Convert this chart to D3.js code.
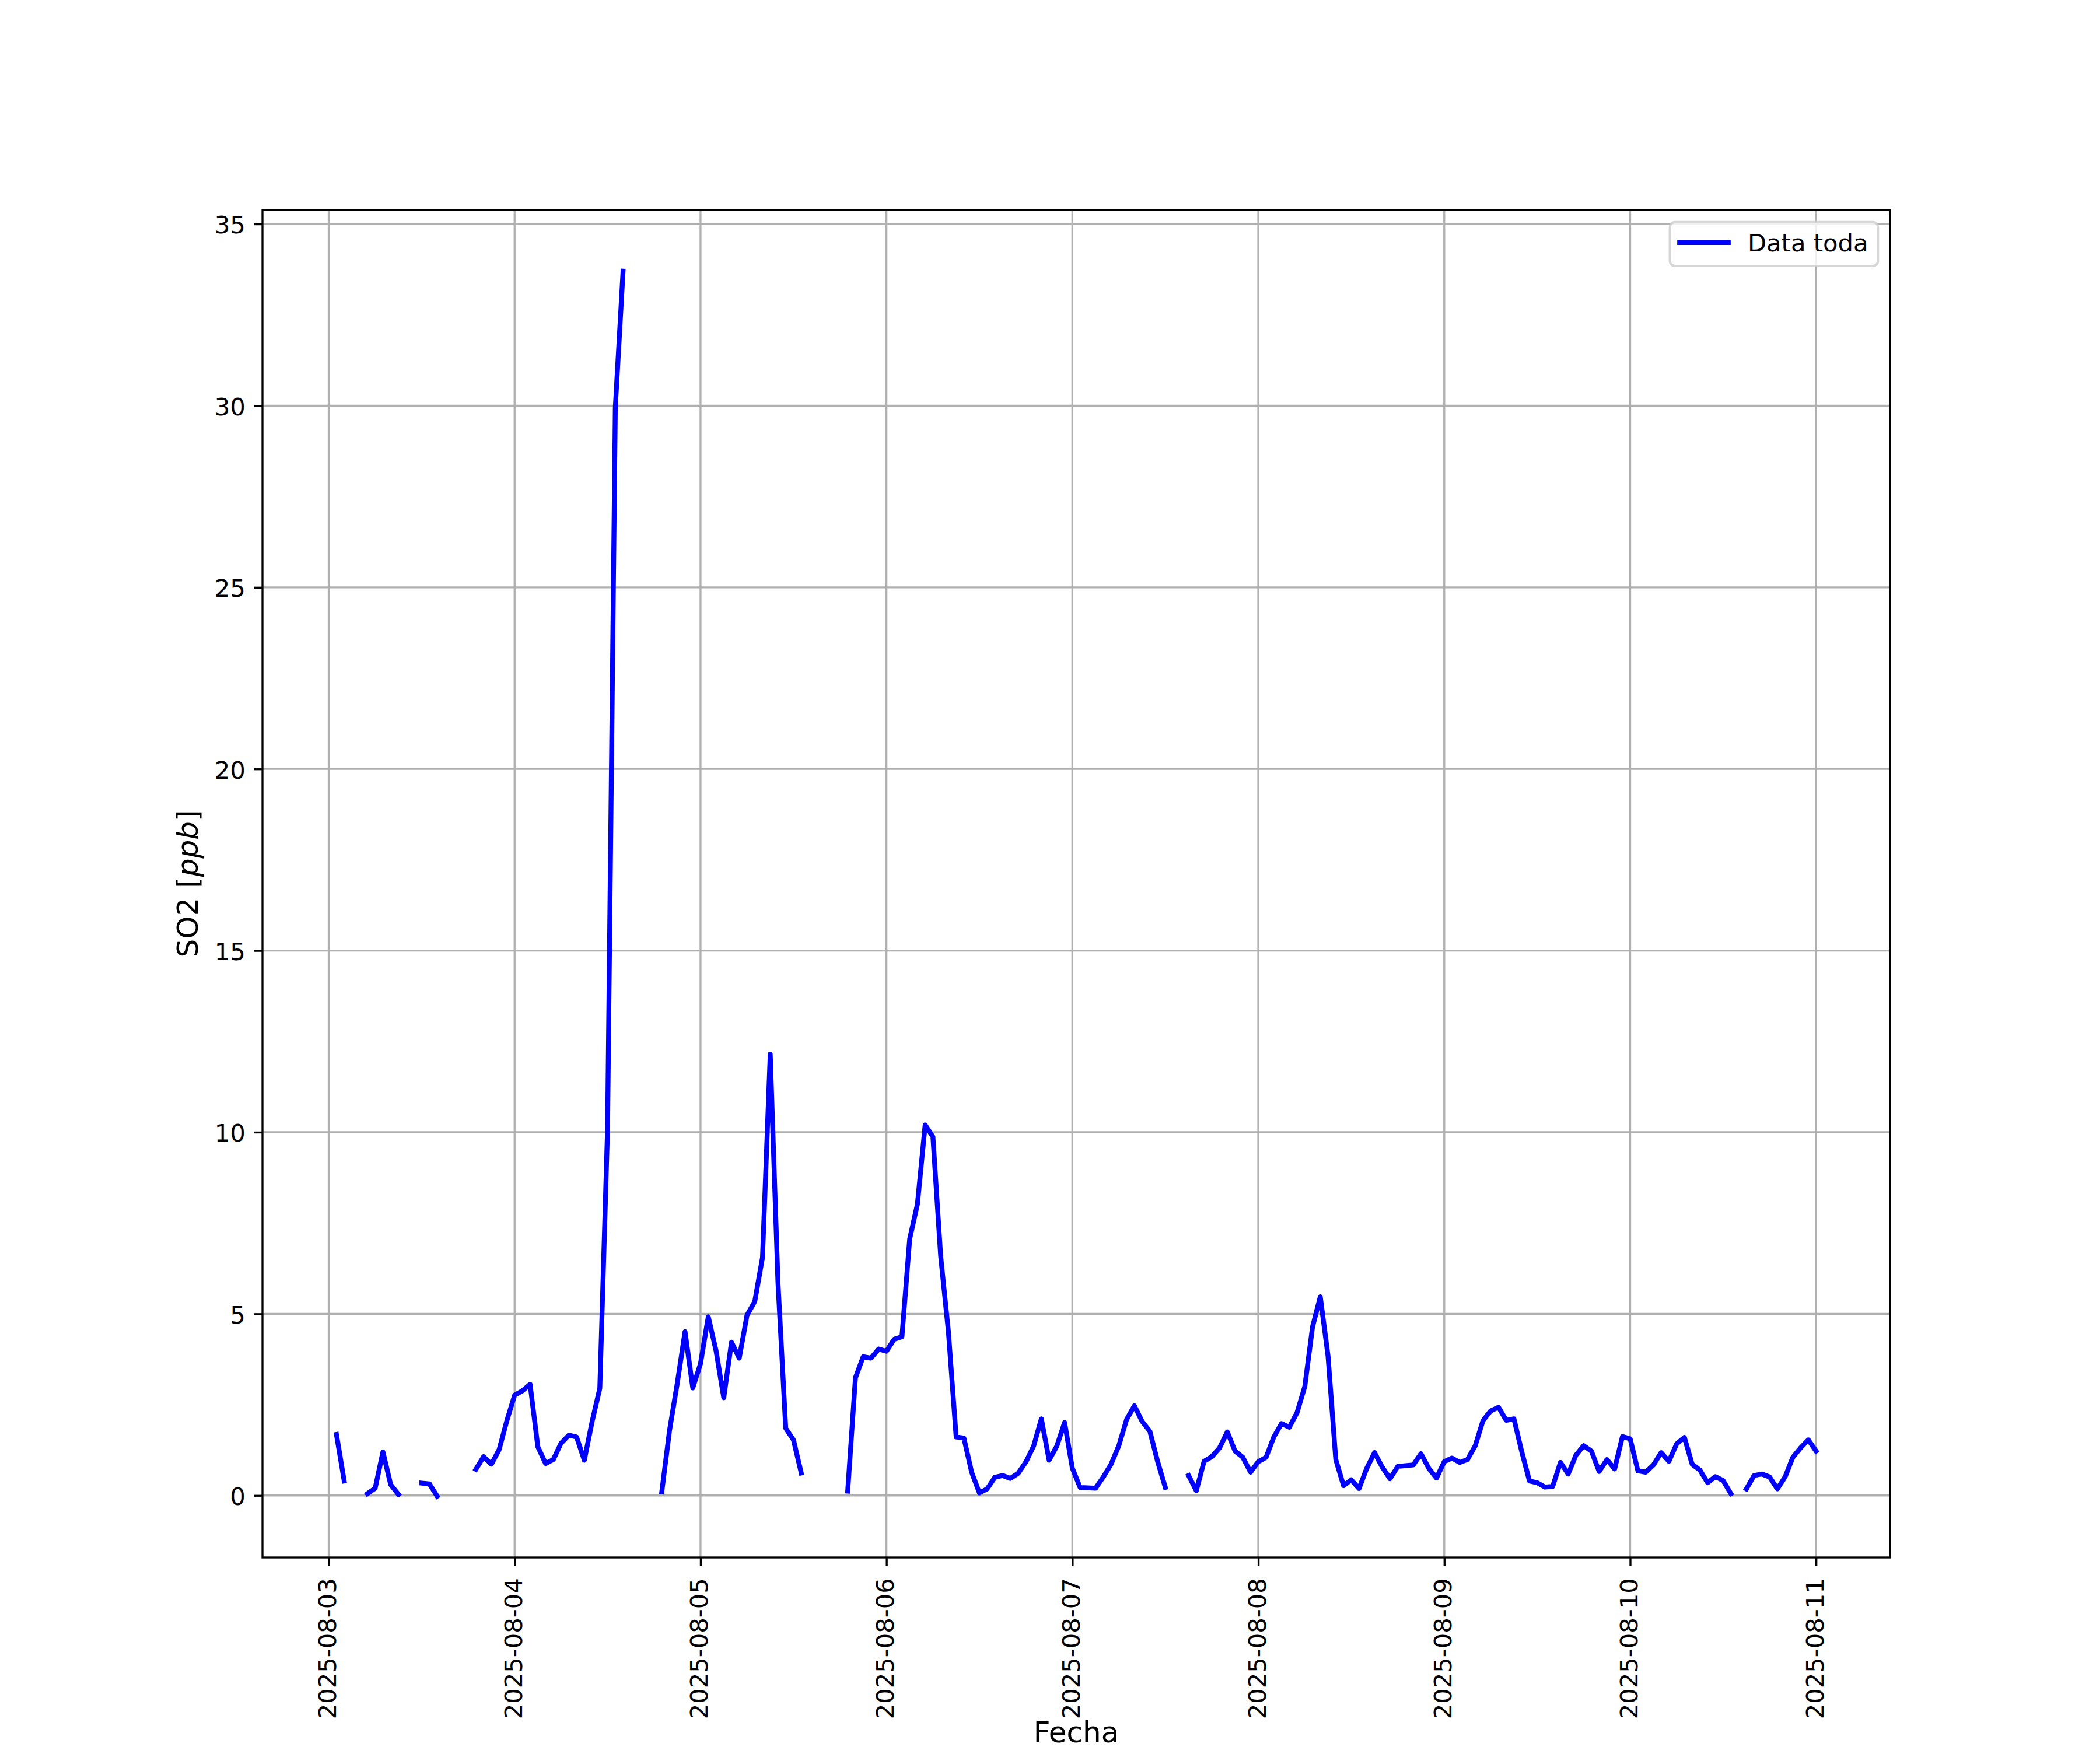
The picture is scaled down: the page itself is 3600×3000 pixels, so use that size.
<!DOCTYPE html>
<html>
<head>
<meta charset="utf-8">
<script src="https://cdn.jsdelivr.net/npm/d3@7"></script>
<style>
  body { margin: 0; background: #ffffff; }
  text { font-family: "DejaVu Sans", sans-serif; }
</style>
</head>
<body>
<svg id="chart" width="3600" height="3000"></svg>
<script>
// ---------------- DATA ----------------
// Hourly SO2 readings, first reading at 2025-08-03 01:00, one value per hour (null = missing)
const firstReading = "2025-08-03T01:00:00Z";
const day0803 = [1.68, 0.40, null, null, 0.05, 0.20, 1.20, 0.30, 0.03, null, null, 0.34, 0.32, -0.02, null, null, null, null, 0.72, 1.07, 0.86, 1.26, 2.06, 2.76];
const day0804 = [2.88, 3.06, 1.34, 0.88, 0.99, 1.44, 1.66, 1.61, 0.97, 2.03, 2.95, 10.1, 29.95, 33.70, null, null, null, null, 0.10, 1.79, 3.09, 4.51, 2.96, 3.63];
const day0805 = [4.92, 3.99, 2.69, 4.22, 3.78, 4.96, 5.34, 6.55, 12.15, 5.85, 1.85, 1.53, 0.62, null, null, null, null, null, 0.12, 3.24, 3.82, 3.78, 4.03, 3.97];
const day0806 = [4.30, 4.37, 7.06, 8.02, 10.2, 9.87, 6.59, 4.51, 1.61, 1.58, 0.64, 0.07, 0.18, 0.50, 0.55, 0.47, 0.61, 0.92, 1.36, 2.11, 0.97, 1.36, 2.01, 0.75];
const day0807 = [0.22, 0.21, 0.20, 0.51, 0.86, 1.37, 2.09, 2.47, 2.04, 1.77, 0.94, 0.22, null, null, 0.55, 0.13, 0.94, 1.07, 1.31, 1.75, 1.22, 1.05, 0.64, 0.93];
const day0808 = [1.05, 1.61, 1.98, 1.88, 2.28, 3.00, 4.64, 5.47, 3.84, 0.99, 0.27, 0.43, 0.19, 0.75, 1.18, 0.78, 0.46, 0.80, 0.82, 0.84, 1.15, 0.75, 0.48, 0.93];
const day0809 = [1.03, 0.91, 0.99, 1.37, 2.06, 2.33, 2.43, 2.07, 2.11, 1.21, 0.40, 0.35, 0.23, 0.25, 0.91, 0.59, 1.11, 1.37, 1.22, 0.66, 0.99, 0.73, 1.62, 1.56];
const day0810 = [0.68, 0.64, 0.84, 1.18, 0.94, 1.42, 1.60, 0.86, 0.70, 0.35, 0.52, 0.41, 0.05, null, 0.18, 0.55, 0.59, 0.51, 0.18, 0.51, 1.05, 1.31, 1.53, 1.22];

const xTickLabels = ["2025-08-03", "2025-08-04", "2025-08-05", "2025-08-06", "2025-08-07",
                     "2025-08-08", "2025-08-09", "2025-08-10", "2025-08-11"];
const yTickValues = [0, 5, 10, 15, 20, 25, 30, 35];
const seriesName = "Data toda";
const xAxisTitle = "Fecha";
const yAxisTitleMain = "SO2 [";
const yAxisTitleItalic = "ppb";
const yAxisTitleEnd = "]";

(function () {
  // ---------------- LAYOUT ----------------
  const PT = 300 / 72;            // figure rendered at 300 dpi
  const W = 3600, H = 3000;
  const pL = 450, pR = 3240, pT = 360, pB = 2670;
  const lineW = 2 * PT, axW = 0.8 * PT, tickLen = 3.5 * PT, tickPad = 3.5 * PT;
  const tickFont = 10 * PT, labelFont = 12 * PT;

  const values = [].concat(day0803, day0804, day0805, day0806, day0807, day0808, day0809, day0810);
  const t0 = Date.parse(firstReading);
  const data = values.map((v, i) => ({ t: new Date(t0 + i * 3600e3), v: v }));
  const finite = data.filter(d => d.v !== null);

  // matplotlib-like 5% autoscale margins
  const tExt = d3.extent(finite, d => +d.t);
  const tPad = (tExt[1] - tExt[0]) * 0.05;
  const vExt = d3.extent(finite, d => d.v);
  const vPad = (vExt[1] - vExt[0]) * 0.05;

  const x = d3.scaleUtc().domain([new Date(tExt[0] - tPad), new Date(tExt[1] + tPad)]).range([pL, pR]);
  const y = d3.scaleLinear().domain([vExt[0] - vPad, vExt[1] + vPad]).range([pB, pT]);

  const parseDay = d3.utcParse("%Y-%m-%d");
  const fmtDay = d3.utcFormat("%Y-%m-%d");
  const xTicks = xTickLabels.map(parseDay);

  const svg = d3.select("#chart");
  svg.append("rect").attr("width", W).attr("height", H).attr("fill", "#ffffff");

  // grid
  const grid = svg.append("g").attr("stroke", "#b0b0b0").attr("stroke-width", axW);
  grid.selectAll("line.gx").data(xTicks).join("line").attr("class", "gx")
    .attr("x1", d => x(d)).attr("x2", d => x(d)).attr("y1", pT).attr("y2", pB);
  grid.selectAll("line.gy").data(yTickValues).join("line").attr("class", "gy")
    .attr("x1", pL).attr("x2", pR).attr("y1", d => y(d)).attr("y2", d => y(d));

  // data line
  svg.append("clipPath").attr("id", "clip").append("rect")
    .attr("x", pL).attr("y", pT).attr("width", pR - pL).attr("height", pB - pT);
  const line = d3.line().defined(d => d.v !== null).x(d => x(d.t)).y(d => y(d.v));
  svg.append("path").datum(data)
    .attr("clip-path", "url(#clip)")
    .attr("d", line)
    .attr("fill", "none").attr("stroke", "#0000ff").attr("stroke-width", lineW)
    .attr("stroke-linejoin", "round").attr("stroke-linecap", "square");

  // axes
  const xAxis = svg.append("g").attr("transform", `translate(0,${pB})`)
    .call(d3.axisBottom(x).tickValues(xTicks).tickFormat(fmtDay).tickSize(tickLen).tickSizeOuter(0));
  xAxis.select(".domain").remove();
  xAxis.selectAll(".tick line").attr("stroke", "#000").attr("stroke-width", axW);
  xAxis.selectAll(".tick text")
    .attr("transform", "rotate(-90)")
    .attr("text-anchor", "end")
    .attr("x", -(tickLen + tickPad + 6))
    .attr("y", 12)
    .attr("dy", null)
    .attr("fill", "#000")
    .style("font-size", tickFont + "px")
    .style("font-family", "'DejaVu Sans', sans-serif");

  const yAxis = svg.append("g").attr("transform", `translate(${pL},0)`)
    .call(d3.axisLeft(y).tickValues(yTickValues).tickFormat(d3.format("d")).tickSize(tickLen).tickPadding(tickPad).tickSizeOuter(0));
  yAxis.select(".domain").remove();
  yAxis.selectAll(".tick line").attr("stroke", "#000").attr("stroke-width", axW);
  yAxis.selectAll(".tick text")
    .attr("dy", "0.38em")
    .attr("fill", "#000")
    .style("font-size", tickFont + "px")
    .style("font-family", "'DejaVu Sans', sans-serif");

  // spines
  svg.append("rect").attr("x", pL).attr("y", pT).attr("width", pR - pL).attr("height", pB - pT)
    .attr("fill", "none").attr("stroke", "#000").attr("stroke-width", axW);

  // axis titles
  svg.append("text").attr("x", (pL + pR) / 2).attr("y", 2987)
    .attr("text-anchor", "middle").style("font-size", labelFont + "px").attr("fill", "#000")
    .text(xAxisTitle);
  const yt = svg.append("text").attr("transform", `translate(339,${(pT + pB) / 2}) rotate(-90)`)
    .attr("text-anchor", "middle").style("font-size", labelFont + "px").attr("fill", "#000");
  yt.append("tspan").text(yAxisTitleMain);
  yt.append("tspan").style("font-style", "italic").text(yAxisTitleItalic);
  yt.append("tspan").text(yAxisTitleEnd);

  // legend
  const fs = tickFont;
  const lg = svg.append("g");
  const legText = lg.append("text").style("font-size", fs + "px").attr("fill", "#000").text(seriesName);
  const tw = legText.node().getComputedTextLength();
  const lgW = 0.4 * fs + 2.0 * fs + 0.8 * fs + tw + 0.4 * fs;
  const lgH = 75.2;
  const lgX = pR - 0.5 * fs - lgW, lgY = pT + 0.5 * fs;
  lg.insert("rect", "text").attr("x", lgX).attr("y", lgY).attr("width", lgW).attr("height", lgH)
    .attr("rx", 0.2 * fs).attr("ry", 0.2 * fs)
    .attr("fill", "#ffffff").attr("fill-opacity", 0.8)
    .attr("stroke", "#cccccc").attr("stroke-opacity", 0.8).attr("stroke-width", 1 * PT);
  lg.insert("line", "text")
    .attr("x1", lgX + 0.4 * fs).attr("x2", lgX + 2.4 * fs)
    .attr("y1", lgY + 35).attr("y2", lgY + 35)
    .attr("stroke", "#0000ff").attr("stroke-width", lineW).attr("stroke-linecap", "square");
  legText.attr("x", lgX + 3.2 * fs).attr("y", lgY + 50.5);
})();
</script>
</body>
</html>
